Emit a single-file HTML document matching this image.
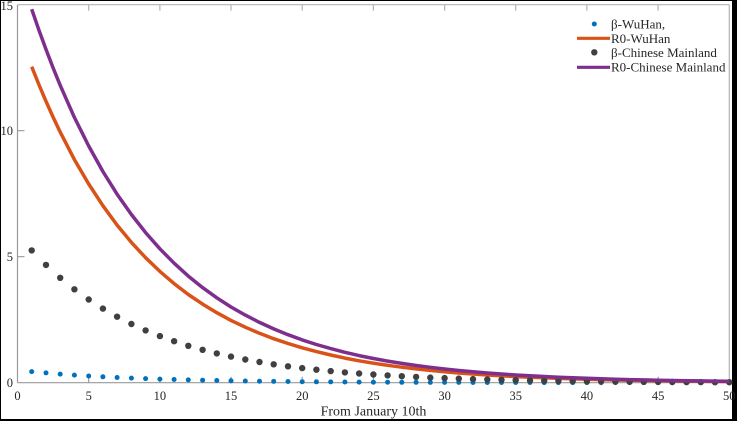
<!DOCTYPE html>
<html><head><meta charset="utf-8"><style>
html,body{margin:0;padding:0;background:#000;}
body{width:737px;height:421px;overflow:hidden;position:relative;}
svg{position:absolute;left:0;top:0;}
text{font-family:"Liberation Serif","Times New Roman",serif;fill:#262626;}
</style></head><body>
<svg width="737" height="421" viewBox="0 0 737 421" xmlns="http://www.w3.org/2000/svg">
<rect x="0" y="0" width="737" height="421" fill="#000"/>
<rect x="1" y="1" width="731" height="418" fill="#fff"/>
<!-- axes box -->
<g stroke="#999" stroke-width="1.2" fill="none">
<line x1="17.5" y1="4.7" x2="729.3" y2="4.7" stroke="#b4b4b4"/>
<line x1="729.3" y1="4.7" x2="729.3" y2="382.7" stroke="#b4b4b4"/>
<line x1="17.5" y1="4.7" x2="17.5" y2="382.7"/>
<line x1="17.5" y1="382.7" x2="729.3" y2="382.7"/>
<!-- bottom ticks -->
<path d="M88.7 382.7v-6M159.9 382.7v-6M231 382.7v-6M302.2 382.7v-6M373.4 382.7v-6M444.6 382.7v-6M515.7 382.7v-6M586.9 382.7v-6M658.1 382.7v-6"/>
<!-- top ticks -->
<path d="M88.7 4.7v6M159.9 4.7v6M231 4.7v6M302.2 4.7v6M373.4 4.7v6M444.6 4.7v6M515.7 4.7v6M586.9 4.7v6M658.1 4.7v6" stroke="#b4b4b4"/>
<!-- left ticks -->
<path d="M17.5 256.7h7M17.5 130.7h7"/>
</g>
<!-- y labels -->
<g font-size="12.5" text-anchor="end">
<text x="13" y="10">15</text>
<text x="13" y="135">10</text>
<text x="13" y="261">5</text>
<text x="13" y="387">0</text>
</g>
<!-- x labels -->
<g font-size="12.5" text-anchor="middle">
<text x="17.5" y="400">0</text>
<text x="88.7" y="400">5</text>
<text x="159.9" y="400">10</text>
<text x="231" y="400">15</text>
<text x="302.2" y="400">20</text>
<text x="373.4" y="400">25</text>
<text x="444.6" y="400">30</text>
<text x="515.7" y="400">35</text>
<text x="586.9" y="400">40</text>
<text x="658.1" y="400">45</text>
<text x="729.3" y="400">50</text>
</g>
<text x="373.5" y="415.5" font-size="14" text-anchor="middle">From January 10th</text>

<!-- beta WuHan dots -->
<g fill="#0072BD">
<circle cx="31.7" cy="371.6" r="2.5"/><circle cx="46.0" cy="372.9" r="2.5"/><circle cx="60.2" cy="374.1" r="2.5"/><circle cx="74.4" cy="375.1" r="2.5"/><circle cx="88.7" cy="376.0" r="2.5"/>
<circle cx="102.9" cy="376.8" r="2.5"/><circle cx="117.1" cy="377.5" r="2.5"/><circle cx="131.4" cy="378.1" r="2.5"/><circle cx="145.6" cy="378.6" r="2.5"/><circle cx="159.9" cy="379.1" r="2.5"/>
<circle cx="174.1" cy="379.5" r="2.5"/><circle cx="188.3" cy="379.9" r="2.5"/><circle cx="202.6" cy="380.2" r="2.5"/><circle cx="216.8" cy="380.5" r="2.5"/><circle cx="231.0" cy="380.8" r="2.5"/>
<circle cx="245.3" cy="381.0" r="2.5"/><circle cx="259.5" cy="381.2" r="2.5"/><circle cx="273.7" cy="381.4" r="2.5"/><circle cx="288.0" cy="381.5" r="2.5"/><circle cx="302.2" cy="381.7" r="2.5"/>
<circle cx="316.4" cy="381.8" r="2.5"/><circle cx="330.7" cy="381.9" r="2.5"/><circle cx="344.9" cy="382.0" r="2.5"/><circle cx="359.1" cy="382.1" r="2.5"/><circle cx="373.4" cy="382.2" r="2.5"/>
<circle cx="387.6" cy="382.2" r="2.5"/><circle cx="401.8" cy="382.3" r="2.5"/><circle cx="416.1" cy="382.3" r="2.5"/><circle cx="430.3" cy="382.4" r="2.5"/><circle cx="444.6" cy="382.4" r="2.5"/>
<circle cx="458.8" cy="382.4" r="2.5"/><circle cx="473.0" cy="382.5" r="2.5"/><circle cx="487.3" cy="382.5" r="2.5"/><circle cx="501.5" cy="382.5" r="2.5"/><circle cx="515.7" cy="382.5" r="2.5"/>
<circle cx="530.0" cy="382.5" r="2.5"/><circle cx="544.2" cy="382.6" r="2.5"/><circle cx="558.4" cy="382.6" r="2.5"/><circle cx="572.7" cy="382.6" r="2.5"/><circle cx="586.9" cy="382.6" r="2.5"/>
<circle cx="601.1" cy="382.6" r="2.5"/><circle cx="615.4" cy="382.6" r="2.5"/><circle cx="629.6" cy="382.6" r="2.5"/><circle cx="643.8" cy="382.6" r="2.5"/><circle cx="658.1" cy="382.6" r="2.5"/>
<circle cx="672.3" cy="382.6" r="2.5"/><circle cx="686.5" cy="382.6" r="2.5"/><circle cx="700.8" cy="382.6" r="2.5"/><circle cx="715.0" cy="382.6" r="2.5"/><circle cx="729.3" cy="382.6" r="2.5"/>
</g>

<!-- R0 WuHan line -->
<polyline fill="none" stroke="#D95319" stroke-width="3.5" stroke-linejoin="round" points="31.7,66.7 38.85,84.5 46.0,101.3 53.1,117.1 60.2,132.1 74.4,159.6 88.7,184.0 102.9,205.7 117.1,225.1 131.4,242.4 145.6,257.7 159.9,271.4 174.1,283.6 188.3,294.5 202.6,304.1 216.8,312.7 231.0,320.4 245.3,327.2 259.5,333.3 273.7,338.7 288.0,343.5 302.2,347.8 316.4,351.6 330.7,355.0 344.9,358.1 359.1,360.8 373.4,363.2 387.6,365.3 401.8,367.2 416.1,368.9 430.3,370.4 444.6,371.8 458.8,373.0 473.0,374.0 487.3,375.0 501.5,375.8 515.7,376.6 530.0,377.2 544.2,377.8 558.4,378.4 572.7,378.9 586.9,379.3 601.1,379.6 615.4,380.0 629.6,380.3 643.8,380.5 658.1,380.8 672.3,381.0 686.5,381.2 700.8,381.3 715.0,381.5 729.3,381.6"/>

<!-- beta Chinese mainland dots -->
<g fill="#404040">
<circle cx="31.7" cy="250.4" r="3.2"/><circle cx="46.0" cy="264.9" r="3.2"/><circle cx="60.2" cy="277.8" r="3.2"/><circle cx="74.4" cy="289.3" r="3.2"/><circle cx="88.7" cy="299.5" r="3.2"/>
<circle cx="102.9" cy="308.6" r="3.2"/><circle cx="117.1" cy="316.7" r="3.2"/><circle cx="131.4" cy="324.0" r="3.2"/><circle cx="145.6" cy="330.4" r="3.2"/><circle cx="159.9" cy="336.1" r="3.2"/>
<circle cx="174.1" cy="341.2" r="3.2"/><circle cx="188.3" cy="345.8" r="3.2"/><circle cx="202.6" cy="349.8" r="3.2"/><circle cx="216.8" cy="353.4" r="3.2"/><circle cx="231.0" cy="356.6" r="3.2"/>
<circle cx="245.3" cy="359.5" r="3.2"/><circle cx="259.5" cy="362.0" r="3.2"/><circle cx="273.7" cy="364.3" r="3.2"/><circle cx="288.0" cy="366.3" r="3.2"/><circle cx="302.2" cy="368.1" r="3.2"/>
<circle cx="316.4" cy="369.7" r="3.2"/><circle cx="330.7" cy="371.1" r="3.2"/><circle cx="344.9" cy="372.4" r="3.2"/><circle cx="359.1" cy="373.5" r="3.2"/><circle cx="373.4" cy="374.5" r="3.2"/>
<circle cx="387.6" cy="375.4" r="3.2"/><circle cx="401.8" cy="376.2" r="3.2"/><circle cx="416.1" cy="376.9" r="3.2"/><circle cx="430.3" cy="377.6" r="3.2"/><circle cx="444.6" cy="378.1" r="3.2"/>
<circle cx="458.8" cy="378.6" r="3.2"/><circle cx="473.0" cy="379.1" r="3.2"/><circle cx="487.3" cy="379.5" r="3.2"/><circle cx="501.5" cy="379.8" r="3.2"/><circle cx="515.7" cy="380.1" r="3.2"/>
<circle cx="530.0" cy="380.4" r="3.2"/><circle cx="544.2" cy="380.7" r="3.2"/><circle cx="558.4" cy="380.9" r="3.2"/><circle cx="572.7" cy="381.1" r="3.2"/><circle cx="586.9" cy="381.3" r="3.2"/>
<circle cx="601.1" cy="381.4" r="3.2"/><circle cx="615.4" cy="381.6" r="3.2"/><circle cx="629.6" cy="381.7" r="3.2"/><circle cx="643.8" cy="381.8" r="3.2"/><circle cx="658.1" cy="381.9" r="3.2"/>
<circle cx="672.3" cy="382.0" r="3.2"/><circle cx="686.5" cy="382.1" r="3.2"/><circle cx="700.8" cy="382.1" r="3.2"/><circle cx="715.0" cy="382.2" r="3.2"/><circle cx="729.3" cy="382.2" r="3.2"/>
</g>

<!-- R0 Chinese mainland line -->
<polyline fill="none" stroke="#7E2F8E" stroke-width="3.5" stroke-linejoin="round" points="31.7,9.2 38.85,29.9 46.0,49.4 53.1,67.9 60.2,85.3 74.4,117.4 88.7,146.0 102.9,171.5 117.1,194.2 131.4,214.5 145.6,232.6 159.9,248.8 174.1,263.2 188.3,276.1 202.6,287.6 216.8,297.8 231.0,307.0 245.3,315.1 259.5,322.4 273.7,328.9 288.0,334.7 302.2,339.9 316.4,344.5 330.7,348.6 344.9,352.3 359.1,355.6 373.4,358.5 387.6,361.1 401.8,363.4 416.1,365.5 430.3,367.3 444.6,369.0 458.8,370.5 473.0,371.8 487.3,373.0 501.5,374.0 515.7,375.0 530.0,375.8 544.2,376.5 558.4,377.2 572.7,377.8 586.9,378.3 601.1,378.8 615.4,379.2 629.6,379.6 643.8,379.9 658.1,380.2 672.3,380.5 686.5,380.7 700.8,380.9 715.0,381.1 729.3,381.3"/>

<!-- legend -->
<circle cx="594.3" cy="24" r="2.5" fill="#0072BD"/>
<line x1="577" y1="38.3" x2="610" y2="38.3" stroke="#D95319" stroke-width="3.2"/>
<circle cx="594.3" cy="52.3" r="3.2" fill="#404040"/>
<line x1="577" y1="67.3" x2="610" y2="67.3" stroke="#7E2F8E" stroke-width="3.2"/>
<g font-size="13">
<text x="611" y="28.5">β-WuHan,</text>
<text x="611" y="42.8">R0-WuHan</text>
<text x="611" y="57">β-Chinese Mainland</text>
<text x="611" y="71.5">R0-Chinese Mainland</text>
</g>
</svg>
</body></html>
